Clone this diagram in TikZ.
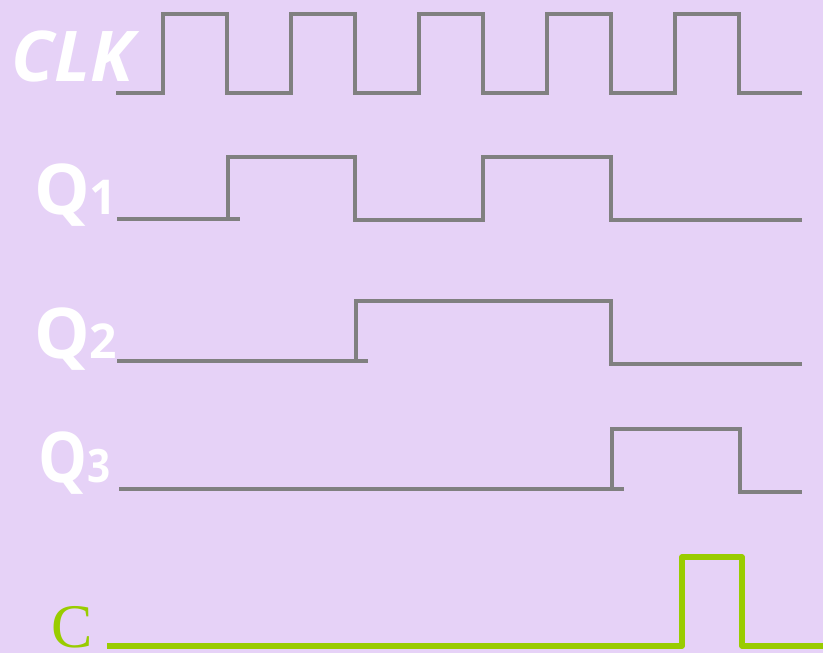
\documentclass[tikz,border=0pt]{standalone}
\usepackage{fontspec}
\newfontfamily\lblfont{Open Sans}
\newfontfamily\seriffont{Liberation Serif}
\definecolor{bg}{HTML}{E6D2F7}
\definecolor{wave}{HTML}{808080}
\definecolor{cgreen}{HTML}{99CC00}
\tikzset{
  wavestyle/.style={draw=wave, line width=4.5pt, line join=miter},
  cwave/.style={draw=cgreen, line width=5.5pt, line join=round},
  lbl/.style={anchor=base west, inner sep=0pt, text=white, font=\lblfont\bfseries\fontsize{70}{70}\selectfont},
}
\begin{document}
\begin{tikzpicture}[x=1pt,y=-1pt]
\fill[bg] (0,0) rectangle (823,653);
\useasboundingbox (0,0) rectangle (823,653);
% CLK
\draw[wavestyle] (116,93) -- (163,93) -- (163,14) -- (227,14) -- (227,93) -- (291,93) -- (291,14) -- (355,14) -- (355,93) -- (419,93) -- (419,14) -- (483,14) -- (483,93) -- (547,93) -- (547,14) -- (611,14) -- (611,93) -- (675,93) -- (675,14) -- (739,14) -- (739,93) -- (802,93);
% Q1
\draw[wavestyle] (117,219) -- (240,219);
\draw[wavestyle] (228,219) -- (228,157) -- (355,157) -- (355,220) -- (483,220) -- (483,157) -- (611,157) -- (611,220) -- (802,220);
% Q2
\draw[wavestyle] (117,361) -- (368,361);
\draw[wavestyle] (356,362) -- (356,301) -- (611,301) -- (611,364) -- (802,364);
% Q3
\draw[wavestyle] (119,489) -- (624,489);
\draw[wavestyle] (612,490) -- (612,429) -- (740,429) -- (740,492) -- (802,492);
% C
\draw[cwave] (107,646) -- (682,646) -- (682,557) -- (742,557) -- (742,646) -- (823,646);
% labels
\node[lbl, font=\lblfont\bfseries\itshape\fontsize{70}{70}\selectfont] (clk) at (11,81) {CLK};
\node[lbl] (q1) at (34,214) {Q\fontsize{48}{48}\selectfont 1};
\node[lbl] (q2) at (34,358) {Q\fontsize{48}{48}\selectfont 2};
\node[lbl, xscale=0.88] (q3) at (38,482) {Q\fontsize{46}{46}\selectfont 3};
\node[anchor=base west, inner sep=0pt, text=cgreen, font=\seriffont\fontsize{62}{62}\selectfont] (c) at (51,647) {C};
\end{tikzpicture}
\end{document}
